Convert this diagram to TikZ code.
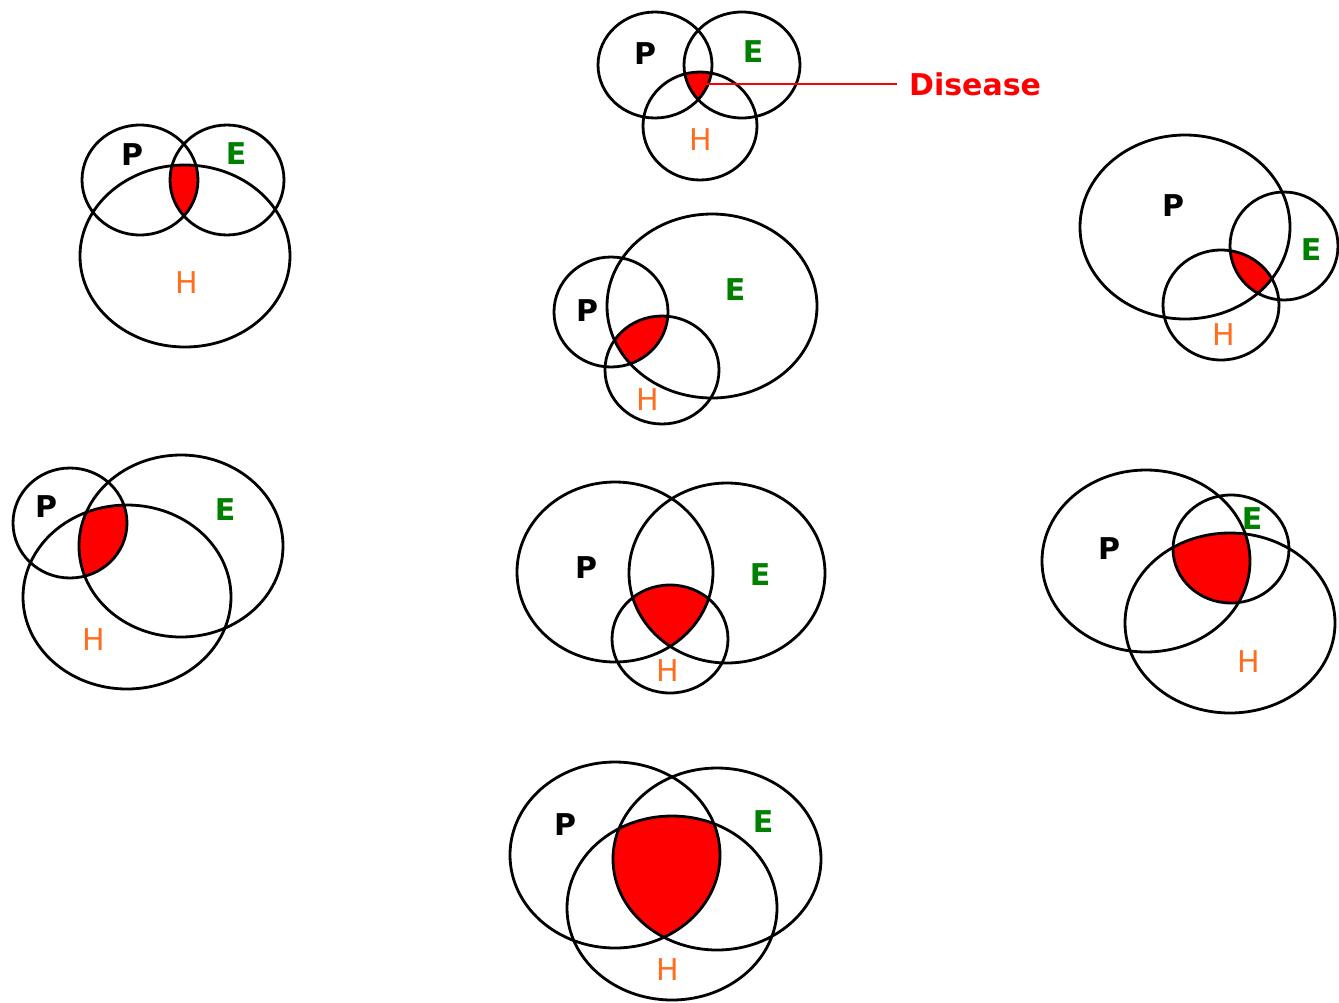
\documentclass[tikz,border=0pt]{standalone}
\usepackage{fontspec}
\setmainfont{DejaVu Sans}
\begin{document}
\begin{tikzpicture}[x=1pt,y=-1pt,
  ring/.style={draw=black,line width=2.8pt},
  lbl/.style={inner sep=0pt,font=\fontsize{30}{30}\selectfont\bfseries},
  plbl/.style={lbl,text=black},
  elbl/.style={lbl,text=green!50!black},
  hlbl/.style={inner sep=0pt,font=\fontsize{30}{30}\selectfont,text={rgb,255:red,255;green,110;blue,30}},
  dis/.style={inner sep=0pt,inner xsep=12pt,font=\fontsize{30}{30}\selectfont\bfseries,text=red},
  disline/.style={draw=red,line width=1.8pt}]
\fill[white] (0,0) rectangle (1339,1002);
\useasboundingbox (0,0) rectangle (1339,1002);
\newcommand\myvenn[3]{%
  \begin{scope}\clip #1; \clip #2; \fill[red] #3; \end{scope}
  \draw[ring] #1; \draw[ring] #2; \draw[ring] #3;}
% 1 top centre
\myvenn{(655,65) ellipse [x radius=57,y radius=53]}
       {(742,65) ellipse [x radius=58,y radius=53]}
       {(700,126) ellipse [x radius=57,y radius=54]}
\node[plbl] (p1) at (645,54) {P};
\node[elbl] (e1) at (753,52) {E};
\node[hlbl] (h1) at (701,140) {H};
\coordinate (dz) at (704,84);
\node[dis,anchor=west] (dis) at (897,84) {Disease};
\draw[disline] (dz) -- (dis.west);
% 2 top left
\myvenn{(140,180) ellipse [x radius=58,y radius=55]}
       {(227,180) ellipse [x radius=57,y radius=55]}
       {(185,256) ellipse [x radius=105,y radius=91]}
\node[plbl] (p2) at (132,155) {P};
\node[elbl] (e2) at (236,154) {E};
\node[hlbl] (h2) at (187,283) {H};
% 3 top right
\myvenn{(1185,227) ellipse [x radius=105,y radius=92]}
       {(1284,246) ellipse [x radius=54,y radius=54]}
       {(1221,305) ellipse [x radius=58,y radius=55]}
\node[plbl] (p3) at (1173,206) {P};
\node[elbl] (e3) at (1311,250) {E};
\node[hlbl] (h3) at (1224,335) {H};
% 4 upper centre
\myvenn{(611,312) ellipse [x radius=57,y radius=55]}
       {(712,306) ellipse [x radius=105,y radius=92]}
       {(662,370) ellipse [x radius=57,y radius=54]}
\node[plbl] (p4) at (587,311) {P};
\node[elbl] (e4) at (735,290) {E};
\node[hlbl] (h4) at (648,400) {H};
% 5 middle left
\myvenn{(70,523) ellipse [x radius=57,y radius=55]}
       {(181,546) ellipse [x radius=102,y radius=91]}
       {(127,597) ellipse [x radius=104,y radius=92]}
\node[plbl] (p5) at (46,507) {P};
\node[elbl] (e5) at (225,510) {E};
\node[hlbl] (h5) at (94,640) {H};
% 6 middle centre
\myvenn{(615,572) ellipse [x radius=98,y radius=90]}
       {(727,573) ellipse [x radius=98,y radius=90]}
       {(670,639) ellipse [x radius=58,y radius=54]}
\node[plbl] (p6) at (586,568) {P};
\node[elbl] (e6) at (760,575) {E};
\node[hlbl] (h6) at (668,671) {H};
% 7 middle right
\myvenn{(1146,561) ellipse [x radius=104,y radius=91]}
       {(1231,549) ellipse [x radius=58,y radius=54]}
       {(1230,623) ellipse [x radius=105,y radius=90]}
\node[plbl] (p7) at (1109,549) {P};
\node[elbl] (e7) at (1252,519) {E};
\node[hlbl] (h7) at (1249,662) {H};
% 8 bottom
\myvenn{(615,855) ellipse [x radius=105,y radius=93]}
       {(717,859) ellipse [x radius=104,y radius=91]}
       {(672,908) ellipse [x radius=105,y radius=92]}
\node[plbl] (p8) at (565,825) {P};
\node[elbl] (e8) at (763,822) {E};
\node[hlbl] (h8) at (668,970) {H};
\end{tikzpicture}
\end{document}
